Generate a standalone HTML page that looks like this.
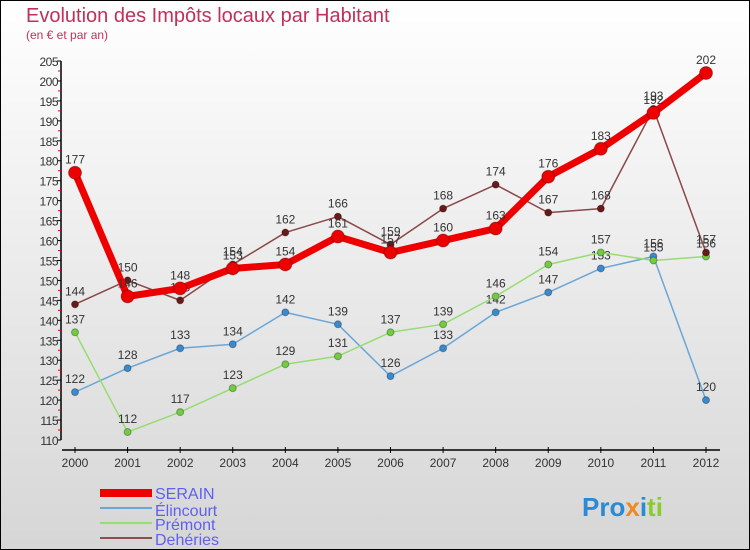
<!DOCTYPE html>
<html><head><meta charset="utf-8"><style>
body{margin:0;width:750px;height:550px;overflow:hidden;font-family:"Liberation Sans",sans-serif}
#c{position:absolute;left:0;top:0;width:748px;height:548px;border:1px solid #000;background:linear-gradient(#fff,#d6d6d6)}
</style></head><body>
<div id="c">
<svg id="s" width="750" height="550" style="position:absolute;left:-1px;top:-1px">
<text x="26" y="22" font-size="20" fill="#c0305a">Evolution des Impôts locaux par Habitant</text>
<text x="26" y="39" font-size="12" fill="#c0305a">(en € et par an)</text>
<g id="ax"></g><g id="lines"></g>
<g font-size="16" fill="#6060ee">
<rect x="100" y="489" width="52" height="8" fill="#e00"/>
<text x="155" y="499">SERAIN</text>
<line x1="100" y1="508" x2="152" y2="508" stroke="#6aa6d6" stroke-width="2"/>
<text x="155" y="516">Élincourt</text>
<line x1="100" y1="523" x2="152" y2="523" stroke="#96dd70" stroke-width="2"/>
<text x="155" y="530">Prémont</text>
<line x1="100" y1="538" x2="152" y2="538" stroke="#8a5050" stroke-width="2"/>
<text x="155" y="545">Dehéries</text>
</g>
<text x="582" y="516" font-size="26" font-weight="bold"><tspan fill="#2a8ad8">Pro</tspan><tspan fill="#f08a20">x</tspan><tspan fill="#2a8ad8">i</tspan><tspan fill="#8acc30">ti</tspan></text>
</svg></div>
<script>
const years=[2000,2001,2002,2003,2004,2005,2006,2007,2008,2009,2010,2011,2012];
const yTicks=[110,115,120,125,130,135,140,145,150,155,160,165,170,175,180,185,190,195,200,205];
const serain=[177,146,148,153,154,161,157,160,163,176,183,192,202];
const elincourt=[122,128,133,134,142,139,126,133,142,147,153,156,120];
const premont=[137,112,117,123,129,131,137,139,146,154,157,155,156];
const deheries=[144,150,145,154,162,166,159,168,174,167,168,193,157];
const NS='http://www.w3.org/2000/svg';
const X=i=>75+i*(706-75)/(years.length-1);
const Y=v=>440-(v-110)*(440-61)/95;
function el(t,a,p){const e=document.createElementNS(NS,t);for(const k in a)e.setAttribute(k,a[k]);p.appendChild(e);return e;}
const ax=document.getElementById('ax');
const yl=el('line',{x1:61,y1:Y(205),x2:61,y2:Y(110),stroke:'#000','stroke-width':1.5},ax);


yTicks.forEach(v=>{
 el('line',{x1:57,x2:61,y1:Y(v),y2:Y(v),stroke:'#000'},ax);
 if(v<205) el('line',{x1:58,x2:61,y1:Y(v+2.5),y2:Y(v+2.5),stroke:'#e00'},ax);
 const t=el('text',{x:58,y:Y(v)+5,'font-size':12,'text-anchor':'end',fill:'#333','letter-spacing':'-0.5'},ax);t.textContent=v;
 
 
});
const xl=el('line',{x1:62,y1:450,x2:720,y2:450,stroke:'#000','stroke-width':1.5},ax);


years.forEach((y,i)=>{
 el('line',{x1:X(i),x2:X(i),y1:447,y2:453,stroke:'#000'},ax);
 const t=el('text',{x:X(i),y:467,'font-size':12,'text-anchor':'middle',fill:'#333'},ax);t.textContent=y;
 
 
});
const L=document.getElementById('lines');
function series(d,col,dot,w,r,name){
 const g=el('g',{},L);
 
 
 const p=el('polyline',{points:d.map((v,i)=>X(i)+','+Y(v)).join(' '),fill:'none',stroke:col,'stroke-width':w,'stroke-linejoin':'round'},g);
 
 
 d.forEach((v,i)=>{
  const c=el('circle',{cx:X(i),cy:Y(v),r:r,fill:dot,stroke:'rgba(0,0,0,0.3)'},g);
  
  
  const t=el('text',{x:X(i),y:Y(v)-9,'font-size':12,'text-anchor':'middle',fill:'#333'},g);t.textContent=v;
  
  
 });
}
series(elincourt,'#6aa6d6','#3a8ad0',1.5,3.5,'elincourt');
series(premont,'#96dd70','#70cc40',1.5,3.5,'premont');
series(deheries,'#8a4848','#6a1818',1.5,3.5,'deheries');
series(serain,'#ee0000','#ee0000',7,6.5,'serain');
</script>
</body></html>
